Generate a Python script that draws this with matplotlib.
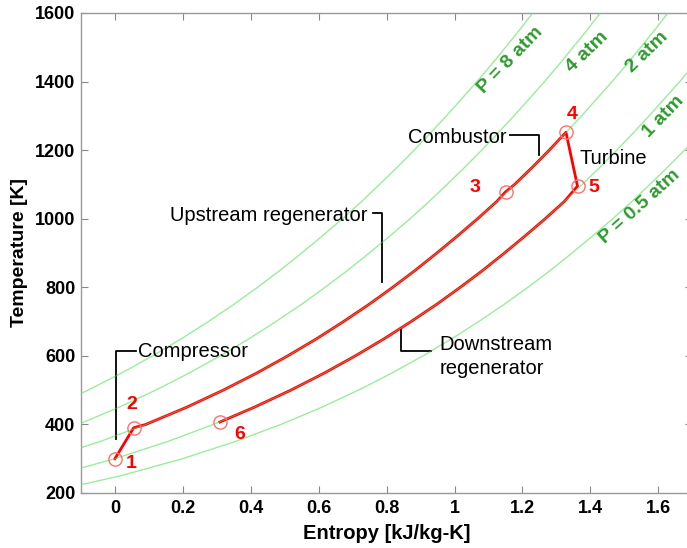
import matplotlib.pyplot as plt

plt.rcParams['font.family'] = ['Liberation Sans', 'DejaVu Sans']

# Isobars (entropy read at fixed temperatures)
iso_T = [200, 250, 300, 350, 400, 450, 500, 550, 600, 650, 700, 750, 800, 850, 900,
         950, 1000, 1050, 1100, 1150, 1200, 1250, 1300, 1350, 1400, 1450, 1500, 1550, 1600]
iso_8 = [-1.004, -0.780, -0.597, -0.442, -0.307, -0.187, -0.079, 0.020, 0.111, 0.196,
         0.275, 0.350, 0.420, 0.487, 0.550, 0.611, 0.670, 0.726, 0.779, 0.831,
         0.881, 0.929, 0.976, 1.021, 1.066, 1.109, 1.150, 1.191, 1.230]
iso_4 = [-0.805, -0.581, -0.398, -0.243, -0.108, 0.012, 0.120, 0.219, 0.310, 0.395,
         0.474, 0.549, 0.619, 0.686, 0.749, 0.810, 0.869, 0.925, 0.978, 1.030,
         1.080, 1.128, 1.175, 1.220, 1.265, 1.308, 1.349, 1.390, 1.429]
iso_2 = [-0.606, -0.382, -0.199, -0.044, 0.091, 0.211, 0.319, 0.418, 0.509, 0.594,
         0.673, 0.748, 0.818, 0.885, 0.948, 1.009, 1.068, 1.124, 1.177, 1.229,
         1.279, 1.327, 1.374, 1.419, 1.464, 1.507, 1.548, 1.589, 1.628]
iso_1 = [-0.407, -0.183, 0.000, 0.155, 0.290, 0.410, 0.518, 0.617, 0.708, 0.793,
         0.872, 0.947, 1.017, 1.084, 1.147, 1.208, 1.267, 1.323, 1.376, 1.428,
         1.478, 1.526, 1.573, 1.618, 1.663, 1.706, 1.747, 1.788, 1.827]
iso_05 = [-0.208, 0.016, 0.199, 0.354, 0.489, 0.609, 0.717, 0.816, 0.907, 0.992,
          1.071, 1.146, 1.216, 1.283, 1.346, 1.407, 1.466, 1.522, 1.575, 1.627,
          1.677, 1.725, 1.772, 1.817, 1.862, 1.905, 1.946, 1.987, 2.026]

# Cycle states 1..6
state_id = ['1', '2', '3', '4', '5', '6']
state_s = [0.000, 0.055, 1.150, 1.328, 1.362, 0.309]
state_T = [300, 390, 1078, 1252, 1095, 407]

# Cycle path: 1 -> 2 -> (2 atm) -> 3 -> 4 -> 5 -> (1 atm) -> 6
path_s = [0.000, 0.055, 0.091, 0.211, 0.319, 0.418, 0.509, 0.594, 0.673, 0.748, 0.818,
          0.885, 0.948, 1.009, 1.068, 1.124, 1.150, 1.177, 1.229, 1.279, 1.328,
          1.362, 1.323, 1.267, 1.208, 1.147, 1.084, 1.017, 0.947, 0.872, 0.793,
          0.708, 0.617, 0.518, 0.410, 0.309]
path_T = [300, 390, 400, 450, 500, 550, 600, 650, 700, 750, 800,
          850, 900, 950, 1000, 1050, 1078, 1100, 1150, 1200, 1252,
          1095, 1050, 1000, 950, 900, 850, 800, 750, 700, 650,
          600, 550, 500, 450, 407]

fig = plt.figure(figsize=(6.87, 5.48), dpi=100)
ax = fig.add_axes([0.1179, 0.1004, 0.8898, 0.8759])

# Isobars under the cycle, plus a faint copy on top (green tint over red)
for iso in [iso_8, iso_4, iso_2, iso_1, iso_05]:
    ax.plot(iso, iso_T, color='#9cf09c', lw=0.9, zorder=1)
    ax.plot(iso, iso_T, color='#8cee8c', lw=0.7, alpha=0.45, zorder=3)

# Cycle
ax.plot(path_s, path_T, color='red', lw=2.0, zorder=2)

# State markers
ax.plot(state_s, state_T, 'o', ms=9.5, mfc='none', mec='#ff7070', mew=1.0, zorder=4)

# State numbers
num_pos = {'1': (0.049, 287), '2': (0.049, 459), '3': (1.061, 1090),
           '4': (1.346, 1305), '5': (1.411, 1090), '6': (0.367, 372)}
for k in state_id:
    ax.text(num_pos[k][0], num_pos[k][1], k, color='red', fontsize=14, fontweight='bold',
            ha='center', va='center', zorder=5)

# Pressure labels
green = '#2e9a2e'
iso_fs = 14
ax.text(1.164, 1463, 'P = 8 atm', color=green, fontsize=iso_fs, fontweight='bold',
        rotation=46, ha='center', va='center', rotation_mode='anchor')
ax.text(1.390, 1486, '4 atm', color=green, fontsize=iso_fs, fontweight='bold',
        rotation=44, ha='center', va='center', rotation_mode='anchor')
ax.text(1.566, 1486, '2 atm', color=green, fontsize=iso_fs, fontweight='bold',
        rotation=44, ha='center', va='center', rotation_mode='anchor')
ax.text(1.614, 1297, '1 atm', color=green, fontsize=iso_fs, fontweight='bold',
        rotation=46, ha='center', va='center', rotation_mode='anchor')
ax.text(1.545, 1036, 'P = 0.5 atm', color=green, fontsize=iso_fs, fontweight='bold',
        rotation=42, ha='center', va='center', rotation_mode='anchor')

# Process annotations with bracket lines
lab_fs = 14.5
ax.plot([0.061, 0.004, 0.004], [614, 614, 357], color='k', lw=1.3)
ax.text(0.069, 614, 'Compressor', fontsize=lab_fs, ha='left', va='center')

ax.plot([0.761, 0.787, 0.787], [1017, 1017, 815], color='k', lw=1.3)
ax.text(0.745, 1008, 'Upstream regenerator', fontsize=lab_fs, ha='right', va='center')

ax.plot([1.164, 1.249, 1.249], [1244, 1244, 1186], color='k', lw=1.3)
ax.text(1.152, 1236, 'Combustor', fontsize=lab_fs, ha='right', va='center')

ax.text(1.367, 1177, 'Turbine', fontsize=lab_fs, ha='left', va='center')

ax.plot([0.843, 0.843, 0.931], [675, 614, 614], color='k', lw=1.3)
ax.text(0.955, 598, 'Downstream\nregenerator', fontsize=lab_fs, ha='left', va='center',
        linespacing=1.3)

# Formatting
ax.set_xlim(-0.1, 1.7)
ax.set_ylim(200, 1600)
ax.set_xticks([0, 0.2, 0.4, 0.6, 0.8, 1, 1.2, 1.4, 1.6])
ax.set_xticklabels(['0', '0.2', '0.4', '0.6', '0.8', '1', '1.2', '1.4', '1.6'])
ax.set_yticks([200, 400, 600, 800, 1000, 1200, 1400, 1600])
ax.tick_params(direction='in', top=True, right=True, length=5, width=0.8,
               color='#888888', labelsize=13, pad=5)
ax.tick_params(axis='y', pad=4)
for lab in ax.get_xticklabels() + ax.get_yticklabels():
    lab.set_fontweight('bold')
for sp in ax.spines.values():
    sp.set_color('#999999')
    sp.set_linewidth(1.0)
ax.set_xlabel('Entropy [kJ/kg-K]', fontsize=14.5, fontweight='bold', labelpad=5)
ax.set_ylabel('Temperature [K]', fontsize=14, fontweight='bold', labelpad=5)

plt.savefig('out.png', dpi=100)
